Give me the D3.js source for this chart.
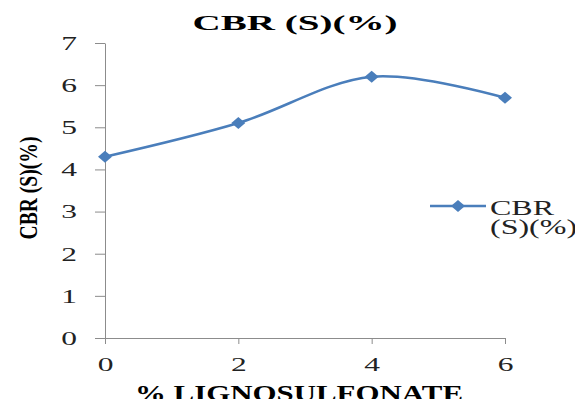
<!DOCTYPE html>
<html lang="en">
<head>
    <meta charset="UTF-8">
    <title>CBR (S)(%)</title>
    <style>
        body { margin: 0; background: #fff; }
        svg { display: block; font-family: "Liberation Serif", "Times New Roman", serif; }
        .axis path, .axis line { stroke: #8c8c8c; }
    </style>
</head>
<body>
    <script src="https://d3js.org/d3.v7.min.js"></script>
    <script>
        // data
        const lignoPct = [0, 2, 4, 6];
        const cbrValues = [4.3, 5.1, 6.2, 5.7];
        const xTicks = [0, 2, 4, 6];
        const yTicks = [0, 1, 2, 3, 4, 5, 6, 7];
        const seriesName = ["CBR", "(S)(%)"];

        const w = 575, h = 399;
        const blue = "#4a7ebb";
        const stretch = 1.75; // the reference text is squashed wide

        const xScale = d3.scaleLinear().domain([0, 6]).range([105, 505]);
        const yScale = d3.scaleLinear().domain([0, 7]).range([338, 43]);

        const svg = d3.select("body").append("svg")
            .attr("width", w)
            .attr("height", h);

        // y axis
        const yAxis = d3.axisLeft(yScale).tickValues(yTicks).tickFormat(d3.format("d"))
            .tickSize(10).tickSizeOuter(0);
        const gy = svg.append("g").attr("class", "axis")
            .attr("transform", "translate(105,0)")
            .call(yAxis);
        gy.selectAll("text")
            .attr("x", 0).attr("dy", "0.35em")
            .attr("font-size", 18)
            .attr("fill", "#222")
            .attr("font-family", "Liberation Serif, serif")
            .attr("transform", "translate(-28,0) scale(" + stretch + ",1)");

        // x axis
        const xAxis = d3.axisBottom(xScale).tickValues(xTicks).tickFormat(d3.format("d"))
            .tickSize(6).tickSizeOuter(0);
        const gx = svg.append("g").attr("class", "axis")
            .attr("transform", "translate(0,338)")
            .call(xAxis);
        gx.select(".domain").attr("d", "M95,0.5H505");
        gx.selectAll("text")
            .attr("y", 0).attr("dy", 0)
            .attr("font-size", 18)
            .attr("fill", "#222")
            .attr("font-family", "Liberation Serif, serif")
            .attr("transform", "translate(0,33) scale(" + stretch + ",1)");

        // series line
        const line = d3.line()
            .x((d, i) => xScale(lignoPct[i]))
            .y(d => yScale(d))
            .curve(d3.curveCatmullRom.alpha(0));
        svg.append("path")
            .datum(cbrValues)
            .attr("d", line)
            .attr("fill", "none")
            .attr("stroke", blue)
            .attr("stroke-width", 2.6);

        const diamond = (cx, cy) => "M" + (cx - 7) + "," + cy + "L" + cx + "," + (cy - 6) +
            "L" + (cx + 7) + "," + cy + "L" + cx + "," + (cy + 6) + "Z";
        svg.selectAll(".pt")
            .data(cbrValues)
            .enter().append("path")
            .attr("class", "pt")
            .attr("d", (d, i) => diamond(xScale(lignoPct[i]), yScale(d)))
            .attr("fill", blue);

        // title
        svg.append("text")
            .attr("x", 295).attr("y", 30)
            .attr("text-anchor", "middle")
            .attr("font-size", 22).attr("font-weight", "bold")
            .attr("textLength", 205).attr("lengthAdjust", "spacingAndGlyphs")
            .text("CBR (S)(%)");

        // x axis title
        svg.append("text")
            .attr("x", 299).attr("y", 401)
            .attr("text-anchor", "middle")
            .attr("font-size", 24).attr("font-weight", "bold")
            .attr("textLength", 328).attr("lengthAdjust", "spacingAndGlyphs")
            .text("% LIGNOSULFONATE");

        // y axis title
        svg.append("text")
            .attr("transform", "translate(37,188) rotate(-90)")
            .attr("text-anchor", "middle")
            .attr("font-size", 25).attr("font-weight", "bold")
            .attr("textLength", 103).attr("lengthAdjust", "spacingAndGlyphs")
            .text("CBR (S)(%)");

        // legend
        const lg = svg.append("g");
        lg.append("line")
            .attr("x1", 430).attr("x2", 486)
            .attr("y1", 206).attr("y2", 206)
            .attr("stroke", blue).attr("stroke-width", 2.6);
        lg.append("path").attr("d", diamond(458, 206)).attr("fill", blue);
        lg.selectAll("text")
            .data(seriesName)
            .enter().append("text")
            .attr("font-size", 20)
            .attr("fill", "#222")
            .attr("transform", (d, i) => "translate(490," + (215 + i * 19) + ") scale(1.6,1)")
            .text(d => d);
    </script>
</body>
</html>
